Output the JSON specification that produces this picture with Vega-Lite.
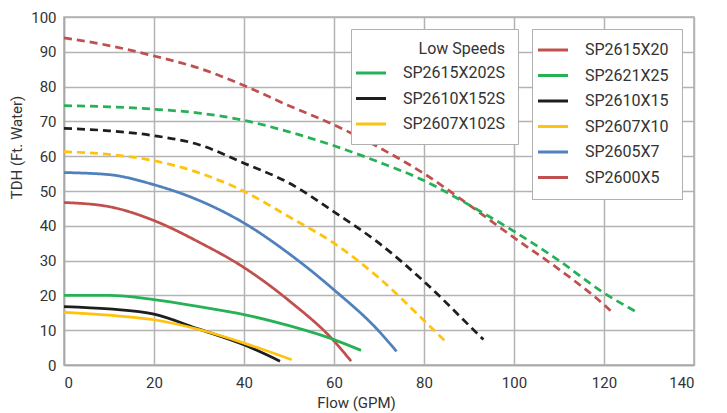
{
  "$schema": "https://vega.github.io/schema/vega-lite/v6.json",
  "width": 630,
  "height": 348,
  "autosize": {"type": "none"},
  "padding": {"left": 64, "top": 17, "right": 33, "bottom": 48},
  "background": "white",
  "config": {
    "view": {"stroke": "#b0b0b0", "strokeWidth": 1.5},
    "axis": {
      "domainColor": "#a8a8a8",
      "domainWidth": 1.5,
      "gridColor": "#b3b3b3",
      "gridWidth": 1.5,
      "ticks": false,
      "labelFont": "Roboto",
      "labelFontSize": 15,
      "labelColor": "#333333",
      "titleFont": "Roboto",
      "titleFontSize": 15,
      "titleFontWeight": "normal",
      "titleColor": "#333333"
    },
    "legend": {
      "symbolType": "M-3,0H3",
      "symbolSize": 100,
      "symbolStrokeWidth": 3,
      "labelFont": "Roboto",
      "labelFontSize": 16,
      "labelColor": "#333333",
      "labelOffset": 24,
      "rowPadding": 9.5,
      "padding": 12,
      "fillColor": "white",
      "strokeColor": "#b0b0b0",
      "titleFont": "Roboto",
      "titleFontSize": 16,
      "titleFontWeight": "normal",
      "titleColor": "#333333",
      "titlePadding": 8
    }
  },
  "datasets": {
    "high": [
      {"series": "SP2615X20", "flow": 0, "head": 94},
      {"series": "SP2615X20", "flow": 10, "head": 91.8},
      {"series": "SP2615X20", "flow": 20, "head": 88.8},
      {"series": "SP2615X20", "flow": 30, "head": 85.3},
      {"series": "SP2615X20", "flow": 40, "head": 80.3},
      {"series": "SP2615X20", "flow": 50, "head": 74.5},
      {"series": "SP2615X20", "flow": 60, "head": 69},
      {"series": "SP2615X20", "flow": 70, "head": 62.5},
      {"series": "SP2615X20", "flow": 80, "head": 55},
      {"series": "SP2615X20", "flow": 90, "head": 46},
      {"series": "SP2615X20", "flow": 100, "head": 36.6},
      {"series": "SP2615X20", "flow": 110, "head": 27.5},
      {"series": "SP2615X20", "flow": 120, "head": 17.3},
      {"series": "SP2615X20", "flow": 121.6, "head": 15.4},
      {"series": "SP2621X25", "flow": 0, "head": 74.5},
      {"series": "SP2621X25", "flow": 10, "head": 74.2},
      {"series": "SP2621X25", "flow": 20, "head": 73.5},
      {"series": "SP2621X25", "flow": 30, "head": 72.4},
      {"series": "SP2621X25", "flow": 40, "head": 70.3},
      {"series": "SP2621X25", "flow": 50, "head": 67},
      {"series": "SP2621X25", "flow": 60, "head": 63},
      {"series": "SP2621X25", "flow": 70, "head": 58.3},
      {"series": "SP2621X25", "flow": 80, "head": 53},
      {"series": "SP2621X25", "flow": 90, "head": 46},
      {"series": "SP2621X25", "flow": 100, "head": 38.4},
      {"series": "SP2621X25", "flow": 110, "head": 30},
      {"series": "SP2621X25", "flow": 120, "head": 20.7},
      {"series": "SP2621X25", "flow": 127, "head": 15.4},
      {"series": "SP2610X15", "flow": 0, "head": 68},
      {"series": "SP2610X15", "flow": 10, "head": 67.3},
      {"series": "SP2610X15", "flow": 20, "head": 65.9},
      {"series": "SP2610X15", "flow": 30, "head": 63.3},
      {"series": "SP2610X15", "flow": 40, "head": 58},
      {"series": "SP2610X15", "flow": 50, "head": 52.3},
      {"series": "SP2610X15", "flow": 60, "head": 44},
      {"series": "SP2610X15", "flow": 70, "head": 35},
      {"series": "SP2610X15", "flow": 80, "head": 24},
      {"series": "SP2610X15", "flow": 90, "head": 11.4},
      {"series": "SP2610X15", "flow": 93.2, "head": 7.3},
      {"series": "SP2607X10", "flow": 0, "head": 61.3},
      {"series": "SP2607X10", "flow": 10, "head": 60.5},
      {"series": "SP2607X10", "flow": 20, "head": 58.7},
      {"series": "SP2607X10", "flow": 30, "head": 55.2},
      {"series": "SP2607X10", "flow": 40, "head": 49.9},
      {"series": "SP2607X10", "flow": 50, "head": 42.6},
      {"series": "SP2607X10", "flow": 60, "head": 35},
      {"series": "SP2607X10", "flow": 70, "head": 25},
      {"series": "SP2607X10", "flow": 80, "head": 12.8},
      {"series": "SP2607X10", "flow": 84.9, "head": 6.6},
      {"series": "SP2605X7", "flow": 0, "head": 55.3},
      {"series": "SP2605X7", "flow": 10, "head": 54.7},
      {"series": "SP2605X7", "flow": 20, "head": 51.8},
      {"series": "SP2605X7", "flow": 30, "head": 47.3},
      {"series": "SP2605X7", "flow": 40, "head": 40.8},
      {"series": "SP2605X7", "flow": 50, "head": 32},
      {"series": "SP2605X7", "flow": 60, "head": 21.6},
      {"series": "SP2605X7", "flow": 70, "head": 9.7},
      {"series": "SP2605X7", "flow": 73.9, "head": 3.9},
      {"series": "SP2600X5", "flow": 0, "head": 46.7},
      {"series": "SP2600X5", "flow": 10, "head": 45.5},
      {"series": "SP2600X5", "flow": 20, "head": 41.5},
      {"series": "SP2600X5", "flow": 30, "head": 35.3},
      {"series": "SP2600X5", "flow": 40, "head": 28},
      {"series": "SP2600X5", "flow": 50, "head": 18.5},
      {"series": "SP2600X5", "flow": 60, "head": 6.9},
      {"series": "SP2600X5", "flow": 63.8, "head": 1.1}
    ],
    "low": [
      {"series": "SP2615X202S", "flow": 0, "head": 20},
      {"series": "SP2615X202S", "flow": 10, "head": 20},
      {"series": "SP2615X202S", "flow": 20, "head": 18.8},
      {"series": "SP2615X202S", "flow": 30, "head": 16.8},
      {"series": "SP2615X202S", "flow": 40, "head": 14.5},
      {"series": "SP2615X202S", "flow": 50, "head": 11.3},
      {"series": "SP2615X202S", "flow": 60, "head": 7.3},
      {"series": "SP2615X202S", "flow": 66, "head": 4.2},
      {"series": "SP2610X152S", "flow": 0, "head": 16.8},
      {"series": "SP2610X152S", "flow": 10, "head": 16.1},
      {"series": "SP2610X152S", "flow": 20, "head": 14.6},
      {"series": "SP2610X152S", "flow": 30, "head": 10.3},
      {"series": "SP2610X152S", "flow": 40, "head": 5.8},
      {"series": "SP2610X152S", "flow": 48, "head": 1.1},
      {"series": "SP2607X102S", "flow": 0, "head": 15.1},
      {"series": "SP2607X102S", "flow": 10, "head": 14.3},
      {"series": "SP2607X102S", "flow": 20, "head": 13},
      {"series": "SP2607X102S", "flow": 30, "head": 10.2},
      {"series": "SP2607X102S", "flow": 40, "head": 6.3},
      {"series": "SP2607X102S", "flow": 50.6, "head": 1.5}
    ]
  },
  "encoding": {
    "x": {
      "field": "flow",
      "type": "quantitative",
      "scale": {"domain": [0, 140], "nice": false},
      "axis": {
        "values": [0, 20, 40, 60, 80, 100, 120, 140],
        "title": "Flow (GPM)",
        "labelPadding": 10,
        "titlePadding": 5,
        "titleX": 292
      }
    },
    "y": {
      "field": "head",
      "type": "quantitative",
      "scale": {"domain": [0, 100], "nice": false},
      "axis": {
        "values": [0, 10, 20, 30, 40, 50, 60, 70, 80, 90, 100],
        "title": "TDH (Ft. Water)",
        "labelPadding": 8,
        "titlePadding": 6,
        "titleY": 130
      }
    }
  },
  "layer": [
    {
      "data": {"name": "high"},
      "mark": {"type": "line", "strokeWidth": 2.75, "interpolate": "monotone"},
      "encoding": {
        "color": {
          "field": "series",
          "type": "nominal",
          "scale": {
            "domain": ["SP2615X20", "SP2621X25", "SP2610X15", "SP2607X10", "SP2605X7", "SP2600X5"],
            "range": ["#c0504d", "#27b156", "#1e1e1e", "#ffc20e", "#4f81bd", "#c0504d"]
          },
          "legend": {"title": null, "orient": "none", "legendX": 468, "legendY": 12, "padding": 13}
        },
        "strokeDash": {
          "field": "series",
          "type": "nominal",
          "scale": {
            "domain": ["SP2615X20", "SP2621X25", "SP2610X15", "SP2607X10", "SP2605X7", "SP2600X5"],
            "range": [[8, 5], [8, 5], [8, 5], [8, 5], [1, 0], [1, 0]]
          },
          "legend": {"title": null, "orient": "none", "legendX": 468, "legendY": 12, "padding": 13}
        }
      }
    },
    {
      "data": {"name": "low"},
      "mark": {"type": "line", "strokeWidth": 2.75, "interpolate": "monotone"},
      "encoding": {
        "color": {
          "field": "series",
          "type": "nominal",
          "scale": {
            "domain": ["SP2615X202S", "SP2610X152S", "SP2607X102S"],
            "range": ["#27b156", "#1e1e1e", "#ffc20e"]
          },
          "legend": {"title": "Low Speeds", "titleAnchor": "end", "orient": "none", "legendX": 287, "legendY": 12}
        }
      }
    }
  ],
  "resolve": {"scale": {"color": "independent"}, "legend": {"color": "independent"}}
}
